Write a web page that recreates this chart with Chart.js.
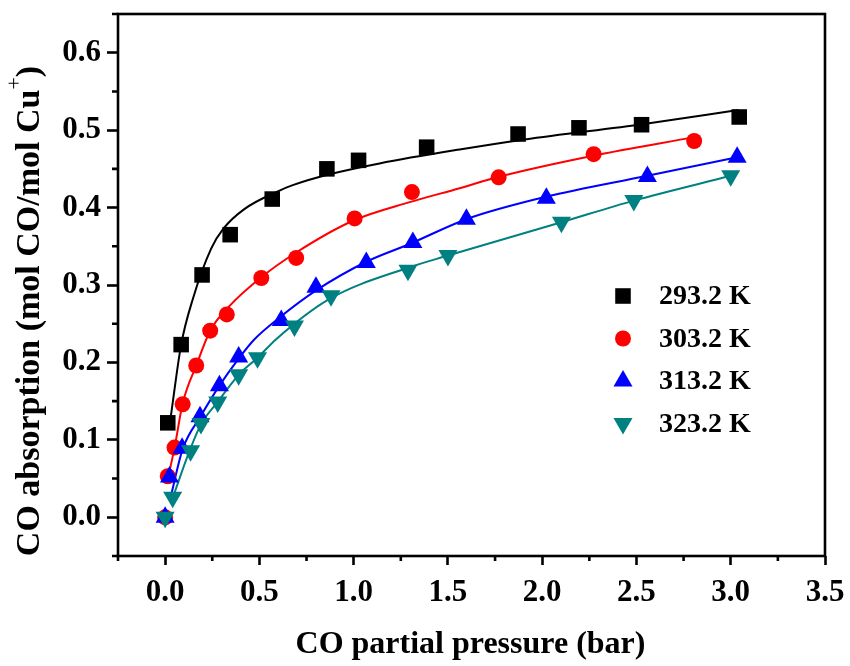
<!DOCTYPE html>
<html>
<head>
<meta charset="utf-8">
<script src="https://cdn.jsdelivr.net/npm/chart.js@4/dist/chart.umd.min.js"></script>
<style>
  html, body { margin: 0; padding: 0; background: #fff; }
  #wrap { width: 850px; height: 666px; }
</style>
</head>
<body>
<div id="wrap"><canvas id="chart" width="850" height="666"></canvas></div>
<script>
(function(){
  const FONT = "'Liberation Serif', 'Times New Roman', serif";

  const seriesLabels = ['293.2 K', '303.2 K', '313.2 K', '323.2 K'];
  const seriesColors = ['#000000', '#ff0000', '#0000ff', '#008080'];

  // measured points
  const x293 = [0.014, 0.085, 0.196, 0.345, 0.568, 0.858, 1.026, 1.387, 1.872, 2.195, 2.527, 3.045];
  const y293 = [0.122, 0.223, 0.313, 0.365, 0.411, 0.450, 0.461, 0.478, 0.495, 0.503, 0.507, 0.517];
  const x303 = [0, 0.014, 0.050, 0.093, 0.165, 0.239, 0.327, 0.510, 0.695, 1.005, 1.309, 1.769, 2.273, 2.806];
  const y303 = [0, 0.053, 0.090, 0.146, 0.196, 0.241, 0.262, 0.309, 0.335, 0.386, 0.420, 0.439, 0.469, 0.486];
  const x313 = [0, 0.023, 0.090, 0.185, 0.288, 0.390, 0.616, 0.800, 1.067, 1.314, 1.598, 2.022, 2.558, 3.034];
  const y313 = [0, 0.052, 0.089, 0.130, 0.170, 0.207, 0.254, 0.297, 0.329, 0.355, 0.385, 0.412, 0.440, 0.465];
  const x323 = [0, 0.040, 0.135, 0.190, 0.279, 0.390, 0.490, 0.686, 0.880, 1.288, 1.500, 2.102, 2.486, 3.000];
  const y323 = [0, 0.026, 0.086, 0.121, 0.149, 0.184, 0.206, 0.247, 0.286, 0.319, 0.338, 0.381, 0.409, 0.441];

  // fitted curves
  const fitX293 = [0.030, 0.085, 0.147, 0.244, 0.310, 0.420, 0.607, 0.677, 0.872, 1.137, 1.562, 1.907, 2.540, 3.040];
  const fitY293 = [0.130, 0.223, 0.282, 0.347, 0.373, 0.398, 0.422, 0.429, 0.443, 0.457, 0.475, 0.488, 0.508, 0.526];
  const fitX303 = [0.010, 0.050, 0.093, 0.165, 0.239, 0.342, 0.510, 0.695, 0.996, 1.297, 1.562, 1.765, 2.270, 2.806];
  const fitY303 = [0.045, 0.090, 0.147, 0.196, 0.241, 0.273, 0.310, 0.342, 0.383, 0.407, 0.425, 0.4395, 0.467, 0.491];
  const fitX313 = [0.030, 0.093, 0.190, 0.288, 0.390, 0.474, 0.607, 0.801, 1.067, 1.297, 1.598, 2.022, 2.558, 3.034];
  const fitY313 = [0.027, 0.088, 0.131, 0.170, 0.205, 0.230, 0.258, 0.293, 0.330, 0.353, 0.385, 0.414, 0.441, 0.465];
  const fitX323 = [0.040, 0.130, 0.190, 0.279, 0.390, 0.490, 0.589, 0.872, 1.297, 1.500, 2.102, 2.486, 3.000];
  const fitY323 = [0.025, 0.086, 0.120, 0.149, 0.184, 0.206, 0.230, 0.282, 0.323, 0.338, 0.381, 0.409, 0.441];

  const xTicks = [0, 0.5, 1.0, 1.5, 2.0, 2.5, 3.0, 3.5];
  const xMinorTicks = [-0.25, 0.25, 0.75, 1.25, 1.75, 2.25, 2.75, 3.25];
  const yTicks = [0, 0.1, 0.2, 0.3, 0.4, 0.5, 0.6];
  const yMinorTicks = [-0.05, 0.05, 0.15, 0.25, 0.35, 0.45, 0.55, 0.65];

  const xTitle = 'CO partial pressure (bar)';
  const yTitleMain = 'CO absorption (mol CO/mol Cu';
  const yTitleSup = '+';
  const yTitleEnd = ')';

  const pts = (xs, ys) => xs.map((x, i) => ({ x, y: ys[i] }));

  const markers = [
    { pointStyle: 'rect', radius: 11, rotation: 0 },
    { pointStyle: 'circle', radius: 8, rotation: 0 },
    { pointStyle: 'triangle', radius: 11, rotation: 0 },
    { pointStyle: 'triangle', radius: 11, rotation: 180 },
  ];

  const pointSets = [pts(x293, y293), pts(x303, y303), pts(x313, y313), pts(x323, y323)];
  const fitSets = [pts(fitX293, fitY293), pts(fitX303, fitY303), pts(fitX313, fitY313), pts(fitX323, fitY323)];

  const datasets = [];
  fitSets.forEach((data, i) => {
    datasets.push({
      label: seriesLabels[i] + ' fit',
      data,
      showLine: true,
      borderColor: seriesColors[i],
      borderWidth: 2,
      pointRadius: 0,
      cubicInterpolationMode: 'monotone',
      order: 20 - i,
    });
  });
  pointSets.forEach((data, i) => {
    datasets.push({
      label: seriesLabels[i],
      data,
      showLine: false,
      backgroundColor: seriesColors[i],
      borderColor: seriesColors[i],
      borderWidth: 0,
      pointStyle: markers[i].pointStyle,
      pointRadius: markers[i].radius,
      rotation: markers[i].rotation,
      order: 10 - i,
    });
  });

  const extras = {
    id: 'extras',
    afterDraw(chart) {
      const { ctx, chartArea: a, scales } = chart;
      const xs = scales.x, ys = scales.y;
      ctx.save();
      ctx.strokeStyle = '#000';
      ctx.lineWidth = 2.6;
      ctx.strokeRect(a.left, a.top, a.right - a.left, a.bottom - a.top);

      // minor ticks
      ctx.beginPath();
      xMinorTicks.forEach(v => {
        const px = xs.getPixelForValue(v);
        ctx.moveTo(px, a.bottom);
        ctx.lineTo(px, a.bottom + 5);
      });
      yMinorTicks.forEach(v => {
        const py = ys.getPixelForValue(v);
        ctx.moveTo(a.left, py);
        ctx.lineTo(a.left - 6, py);
      });
      ctx.stroke();

      // axis titles
      ctx.fillStyle = '#000';
      ctx.font = `bold 32px ${FONT}`;
      ctx.textAlign = 'center';
      ctx.textBaseline = 'middle';
      ctx.fillText(xTitle, (a.left + a.right) / 2 - 1, 645);

      ctx.save();
      ctx.translate(30, 311);
      ctx.rotate(-Math.PI / 2);
      ctx.textAlign = 'left';
      ctx.textBaseline = 'middle';
      ctx.font = `bold 34px ${FONT}`;
      const w1 = ctx.measureText(yTitleMain).width;
      const w3 = ctx.measureText(yTitleEnd).width;
      ctx.font = `22px ${FONT}`;
      const w2 = ctx.measureText(yTitleSup).width;
      let sx = -(w1 + w2 + w3) / 2;
      ctx.font = `bold 34px ${FONT}`;
      ctx.fillText(yTitleMain, sx, 0);
      sx += w1;
      ctx.font = `22px ${FONT}`;
      ctx.fillText(yTitleSup, sx, -15);
      sx += w2;
      ctx.font = `bold 34px ${FONT}`;
      ctx.fillText(yTitleEnd, sx, 0);
      ctx.restore();

      // legend
      const lx = 623, ly = 296, step = 42.5;
      seriesLabels.forEach((label, i) => {
        const y = ly + i * step;
        ctx.fillStyle = seriesColors[i];
        ctx.strokeStyle = seriesColors[i];
        Chart.helpers.drawPoint(ctx, {
          pointStyle: markers[i].pointStyle,
          radius: markers[i].radius,
          rotation: markers[i].rotation,
          borderWidth: 0,
        }, lx, y);
        ctx.fillStyle = '#000';
        ctx.font = `bold 28px ${FONT}`;
        ctx.textAlign = 'left';
        ctx.textBaseline = 'middle';
        ctx.fillText(label, 659, y + 1);
      });
      ctx.restore();
    }
  };

  const tickFont = { family: FONT, size: 31, weight: 'bold' };

  new Chart(document.getElementById('chart'), {
    type: 'scatter',
    data: { datasets },
    options: {
      responsive: false,
      animation: false,
      layout: { padding: { top: 14, right: 25, left: 0, bottom: 0 } },
      plugins: { legend: { display: false }, tooltip: { enabled: false } },
      scales: {
        x: {
          type: 'linear',
          min: -0.25,
          max: 3.5,
          afterBuildTicks: s => { s.ticks = xTicks.map(v => ({ value: v })); },
          afterFit: s => { s.height = 110; s.paddingLeft = 0; s.paddingRight = 0; },
          border: { display: false },
          grid: { drawOnChartArea: false, drawTicks: true, tickLength: 9, tickWidth: 2.6, tickColor: '#000' },
          ticks: {
            callback: v => Number(v).toFixed(1),
            font: tickFont, color: '#000', padding: 9, maxRotation: 0, autoSkip: false,
          },
        },
        y: {
          type: 'linear',
          min: -0.05,
          max: 0.65,
          afterBuildTicks: s => { s.ticks = yTicks.map(v => ({ value: v })); },
          afterFit: s => { s.width = 118; s.paddingTop = 0; s.paddingBottom = 0; },
          border: { display: false },
          grid: { drawOnChartArea: false, drawTicks: true, tickLength: 11, tickWidth: 2.6, tickColor: '#000' },
          ticks: {
            callback: v => Number(v).toFixed(1),
            font: tickFont, color: '#000', padding: 6, autoSkip: false,
          },
        },
      },
    },
    plugins: [extras],
  });
})();
</script>
</body>
</html>
